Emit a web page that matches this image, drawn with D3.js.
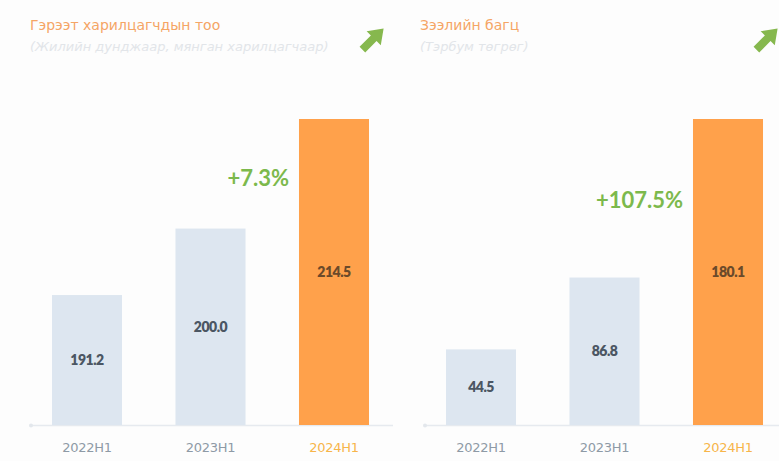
<!DOCTYPE html>
<html><head><meta charset="utf-8">
<script src="https://cdn.jsdelivr.net/npm/d3@7"></script>
<style>body{margin:0;background:#fff;}svg{display:block;font-family:"Lato","Open Sans",sans-serif;}</style>
</head><body><svg id="c" width="779" height="461"></svg>
<script>
const categories = ["2022H1", "2023H1", "2024H1"];
const leftValues = [191.2, 200.0, 214.5];
const rightValues = [44.5, 86.8, 180.1];
const leftTitle = "Гэрээт харилцагчдын тоо";
const leftSub = "(Жилийн дунджаар, мянган харилцагчаар)";
const rightTitle = "Зээлийн багц";
const rightSub = "(Тэрбум төгрөг)";
const leftGrowth = "+7.3%";
const rightGrowth = "+107.5%";

const svg = d3.select("#c");
svg.append("rect").attr("width",779).attr("height",461).attr("fill","#fdfdfd");

function panel(opt){
  const g = svg.append("g");
  const x = d3.scaleBand().domain(categories).range([opt.x0, opt.x1]).paddingInner(0.433).paddingOuter(0.17);
  const y = d3.scaleLinear().domain(opt.domain).range([425, 119]);
  // baseline
  g.append("line").attr("x1",opt.x0-1).attr("x2",opt.x0+362).attr("y1",425.5).attr("y2",425.5)
    .attr("stroke","#e6eaef").attr("stroke-width",1.5);
  g.append("circle").attr("cx",opt.x0).attr("cy",425.5).attr("r",2).attr("fill","#e3e7ec");
  // bars
  g.selectAll("rect.bar").data(opt.values).join("rect").attr("class","bar")
    .attr("x",(d,i)=>x(categories[i])).attr("width",x.bandwidth())
    .attr("y",d=>y(d)).attr("height",d=>425-y(d))
    .attr("fill",(d,i)=>i===2?"#ffa14b":"#dde6f0");
  // value labels
  g.selectAll("text.val").data(opt.values).join("text").attr("class","val")
    .attr("x",(d,i)=>x(categories[i])+x.bandwidth()/2)
    .attr("y",d=>(y(d)+425)/2).attr("dy","0.35em")
    .attr("text-anchor","middle").attr("font-size",14).attr("font-weight",800)
    .attr("letter-spacing","-0.5")
    .attr("fill",(d,i)=>i===2?"#6b4a2a":"#4b5663")
    .text(d=>d.toFixed(1));
  // x labels
  g.selectAll("text.cat").data(categories).join("text").attr("class","cat")
    .attr("x",d=>x(d)+x.bandwidth()/2).attr("y",447).attr("dy","0.35em")
    .attr("text-anchor","middle").attr("font-size",13).attr("font-family","DejaVu Sans").attr("letter-spacing","-0.3")
    .attr("fill",(d,i)=>i===2?"#f7b54a":"#8e9aa6").text(d=>d);
  // growth
  g.append("text").attr("x",x(categories[2])-10).attr("y",opt.gy).attr("dy","0.35em")
    .attr("text-anchor","end").attr("font-size",22).attr("font-weight",700)
    .attr("fill","#7cb94c").text(opt.growth);
  // title
  g.append("text").attr("x",opt.tx).attr("y",30).attr("font-size",14).attr("font-family","DejaVu Sans").attr("fill","#f5a565").text(opt.title);
  g.append("text").attr("x",opt.tx).attr("y",51).attr("font-size",13).attr("font-family","DejaVu Sans").attr("fill","#e2e5e9").attr("font-style","italic").text(opt.sub);
  // arrow
  const a = g.append("g").attr("transform",`translate(${opt.ax},39) rotate(-45)`);
  a.append("path").attr("d","M-15,-4 L1,-4 L1,-10 L15,0 L1,10 L1,4 L-15,4 Z").attr("fill","#86b84e");
}

panel({x0:31, x1:390, values:leftValues, domain:[174,214.5], growth:leftGrowth, gy:178, title:leftTitle, sub:leftSub, tx:30, ax:373});
panel({x0:425, x1:784, values:rightValues, domain:[0,180.1], growth:rightGrowth, gy:200, title:rightTitle, sub:rightSub, tx:420, ax:767});
</script></body></html>
